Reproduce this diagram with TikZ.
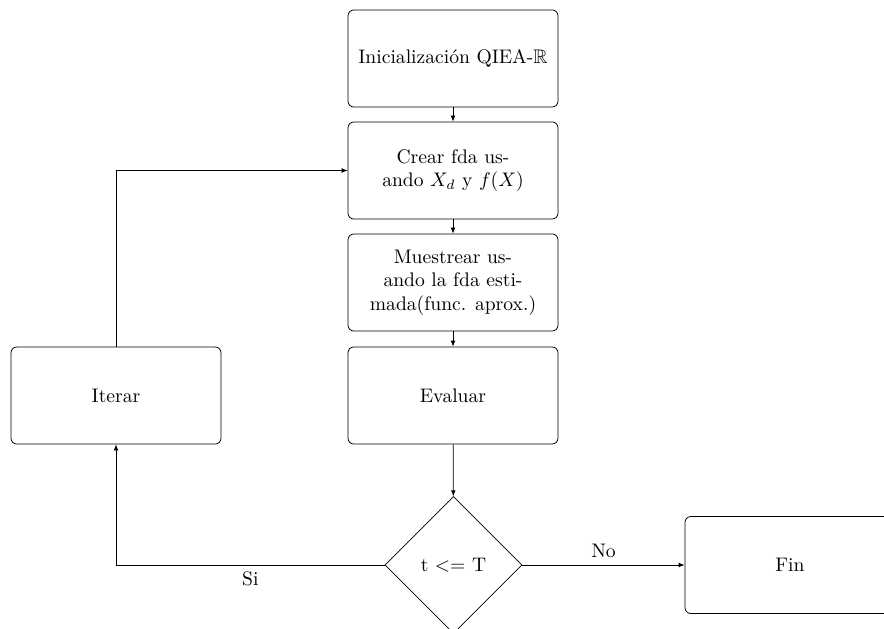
\documentclass[tikz,border=0pt]{standalone}
\usepackage{amssymb}
\usetikzlibrary{shapes.geometric,arrows.meta}
\begin{document}
\begin{tikzpicture}[x=0.51pt,y=-0.51pt,
  box/.style={draw, rounded corners=3pt, minimum width=107.1pt, minimum height=49.5pt, align=center, inner sep=2pt},
  dec/.style={draw, diamond, aspect=1, minimum width=69.9pt, minimum height=69.9pt, inner sep=0pt},
  arr/.style={-{Latex[length=3pt,width=2.4pt]}}]
\clip (0,0) rectangle (884,628);
\useasboundingbox (0,0) rectangle (884,628);
\node[box] (init) at (453,58.5) {Inicialización QIEA-$\mathbb{R}$};
\node[box] (crear) at (453,170.5) {Crear fda us-\\ando $X_d$ y $f(X)$};
\node[box] (mues) at (453,282.5) {Muestrear us-\\ando la fda esti-\\mada(func. aprox.)};
\node[box] (eval) at (453,395.5) {Evaluar};
\node[box] (iter) at (116,395.5) {Iterar};
\node[dec] (cond) at (453.5,565) {t $<=$ T};
\node[box] (fin) at (790,565) {Fin};
\draw[arr] (init) -- (crear);
\draw[arr] (crear) -- (mues);
\draw[arr] (mues) -- (eval);
\draw[arr] (eval) -- (cond);
\draw[arr] (cond.east) -- node[above]{No} (fin.west);
\draw[arr] (cond.west) -| node[pos=0.25, below]{Si} (iter.south);
\draw[arr] (iter.north) |- (crear.west);
\end{tikzpicture}
\end{document}
